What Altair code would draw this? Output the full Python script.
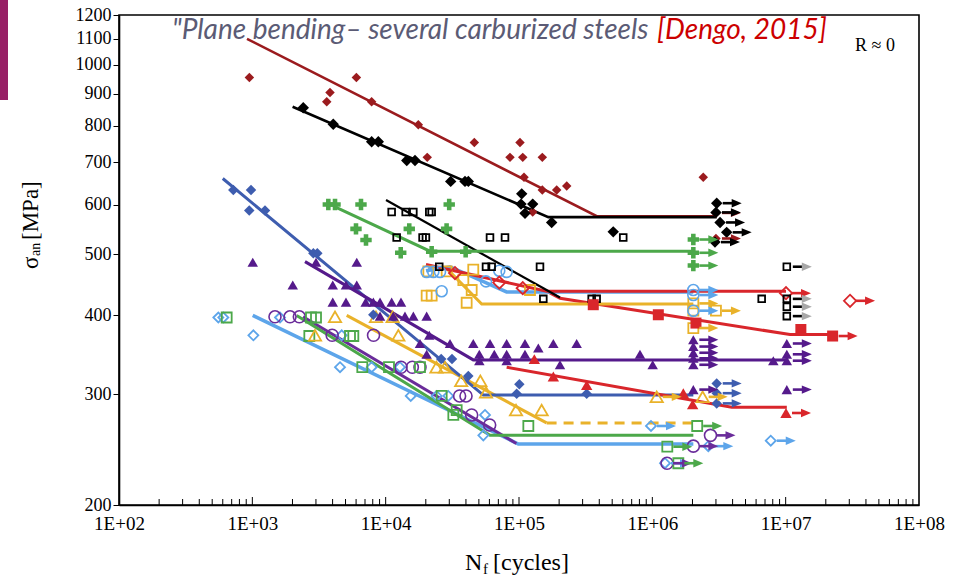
import altair as alt
import pandas as pd

# ---------------- data (N cycles, stress MPa) ----------------
# dark red filled diamonds
DR_N = [950, 6030, 3825, 3614, 7850, 17580, 46240, 101700, 20500, 85600, 106700, 149600, 109000, 149600, 191700, 228000, 126700, 2410000]
DR_S = [955, 955, 904, 874, 874, 803, 753, 753, 713, 713, 713, 713, 663, 633, 633, 642, 584, 663]
DR_RUN_N = [3000000, 3000000]
DR_RUN_S = [582, 530]
DR_FIT_N = [912, 383000, 3000000]
DR_FIT_S = [1100, 575, 575]

# black filled diamonds
BK_N = [2410, 4045, 7850, 8810, 14390, 16600, 30740, 39360, 41690, 104800, 103500, 126700, 110900, 175800, 509000]
BK_S = [855, 805, 755, 755, 705, 705, 653, 653, 653, 624, 601, 601, 581, 562, 543]
BK_RUN_N = [3040000, 3000000, 3220000, 3610000, 2950000]
BK_RUN_S = [603, 583, 562, 542, 523]
BK_FIT_N = [2004, 166000, 3040000]
BK_FIT_S = [858, 573, 573]

# green plus
GP_N = [3715, 4170, 6530, 29960, 5990, 15030, 28640, 7120, 12970, 22130, 39810]
GP_S = [600, 600, 600, 600, 549, 549, 549, 527, 503, 505, 505]
GP_RUN_N = [2030000, 2030000, 2030000]
GP_RUN_S = [528, 503, 480]
GP_FIT_N = [4170, 21500, 2030000]
GP_FIT_S = [595, 506, 506]

# black open squares
BS_N = [11090, 14130, 16130, 21240, 22130, 12090, 18920, 20040, 60600, 78520, 605000, 25230, 56560, 62370, 143700, 152200, 350800, 382400, 6610000]
BS_S = [584, 584, 584, 584, 584, 532, 532, 532, 532, 532, 532, 478, 478, 478, 478, 425, 425, 425, 425]
BS_RUN_N = [10200000, 10200000, 10200000, 10200000]
BS_RUN_S = [478, 425, 413, 399]
BS_FIT_N = [10060, 203000]
BS_FIT_S = [610, 427]

# red open diamonds
RD_N = [33110, 71120, 106700]
RD_S = [467, 451, 442]
RD_RUN_N = [10060000, 30400000]
RD_RUN_S = [434, 422]
RD_FIT_N = [20070, 161000, 10060000]
RD_FIT_S = [482, 437, 437]

# light blue open circles
LC_N = [20300, 22760, 25560, 26300, 56560, 71120, 80800]
LC_S = [469, 469, 469, 437, 453, 471, 469]
LC_RUN_N = [2030000, 2030000, 2030000]
LC_RUN_S = [439, 431, 407]
LC_FIT_N = [20070, 30370, 80700, 2030000]
LC_FIT_S = [471, 478, 436, 436]

# gold open squares
GS_N = [20900, 28680, 45400, 38240, 44170, 20300, 22130, 40500, 120900, 2030000]
GS_S = [470, 470, 473, 455, 439, 430, 430, 419, 439, 407]
GS_RUN_N = [2030000, 3000000, 2030000]
GS_RUN_S = [418, 407, 382]
GS_FIT_N = [20900, 28680, 52500, 2030000]
GS_FIT_S = [477, 475, 417, 417]

# red filled squares
RS_N = [360600, 1109000, 2125000, 13000000]
RS_S = [416, 401, 389, 380]
RS_RUN_N = [22500000]
RS_RUN_S = [371]
RS_FIT_N = [161000, 203000, 10780000, 22800000]
RS_FIT_S = [437, 426, 373, 373]

# purple filled triangles
PT_N = [1007, 3003, 6070, 2010, 4010, 5040, 6070, 4010, 5040, 7080, 8080, 9070, 11090, 13030,
        9070, 11410, 13960, 16130, 20300, 21240, 18090, 20300, 30370, 45400, 60600, 80800,
        110900, 139600, 180900, 270700, 50400, 65300, 80800, 110900, 50400, 80800, 203000,
        808000, 1006000, 8080000]
PT_S = [486, 486, 486, 447, 447, 447, 447, 420, 420, 420, 420, 420, 420, 420,
        399, 399, 399, 399, 399, 372, 361, 347, 361, 361, 361, 361,
        361, 355, 361, 361, 347, 347, 347, 347, 339, 339, 334,
        347, 334, 339]
PT_RUN_N = [2030000, 2030000, 2030000, 2030000, 2030000, 2030000, 10200000, 10200000, 10200000, 10200000]
PT_RUN_S = [366, 357, 349, 342, 334, 305, 361, 347, 339, 305]
PT_FIT_N = [2483, 45400, 10200000]
PT_FIT_S = [487, 340, 340]

# red filled triangles
RT_N = [130300, 180900, 321800, 1708000, 2006000]
RT_S = [341, 320, 310, 301, 289]
RT_RUN_N = [10060000]
RT_RUN_S = [280]
RT_FIT_N = [80800, 3940000, 10200000]
RT_FIT_S = [331, 286, 286]

# blue filled diamonds
BD_N = [720, 977, 948, 1245, 2868, 3073, 8080, 26090, 31450, 41690, 100600, 96100, 321800]
BD_S = [633, 633, 587, 587, 502, 502, 401, 341, 341, 320.5, 311, 300.5, 300.5]
BD_RUN_N = [3040000, 3040000, 3040000]
BD_RUN_S = [312, 301, 290]
BD_FIT_N = [600, 54000, 2030000]
BD_FIT_S = [660, 299, 299]

# gold open triangles
GT_N = [4170, 8460, 11280, 2951, 12450, 24040, 27860, 36860, 51300, 56560, 95000, 147900]
GT_S = [398, 398, 398, 372, 372, 331, 331, 315, 315, 302, 283, 283]
GT_RUN_N = [1079000, 2385000]
GT_RUN_S = [297, 297]
GT_FIT_N = [5100, 161000]
GT_FIT_S = [400, 270]
GT_DASH_N = [161000, 2030000]
GT_DASH_S = [270, 270]

# green open squares
GQ_N = [642, 2754, 3003, 2676, 5400, 5720, 6680, 10590, 18090, 26300, 34080, 32180, 117500]
GQ_S = [397, 397, 397, 371, 371, 371, 331, 331, 331, 298, 283, 278, 267]
GQ_RUN_N = [2170000, 1295000, 1567000]
GQ_RUN_S = [267, 247.5, 233]
GQ_FIT_N = [2150, 60600, 2030000]
GQ_FIT_S = [400, 258, 258]

# purple open circles
PC_N = [1479, 1917, 2252, 3970, 8110, 13030, 15850, 18090, 35850, 40050, 44170, 60260]
PC_S = [398, 398, 398, 372, 372, 331, 331, 331, 298, 298, 278, 268]
PC_RUN_N = [2730000, 2030000, 1289000]
PC_RUN_S = [258, 248, 233]
PC_FIT_N = [2400, 95500]
PC_FIT_S = [398, 250.5]

# light blue open diamonds
LD_N = [556, 606, 1018, 1613, 4546, 7850, 12810, 4680, 15420, 24100, 29500, 55600, 54000]
LD_S = [397, 397, 372, 397, 331, 331, 331, 372, 298, 298, 298, 278, 258]
LD_RUN_N = [977000, 7730000, 1245000, 2630000]
LD_RUN_S = [267, 253, 233, 248]
LD_FIT_N = [1007, 98900, 2030000]
LD_FIT_S = [400, 250, 250]

X_DECADES = [1e2, 1e3, 1e4, 1e5, 1e6, 1e7, 1e8]
Y_TICKS = [200, 300, 400, 500, 600, 700, 800, 900, 1000, 1100, 1200]

# ---------------- styles ----------------
STYLE = {
    'DR': dict(color='#9B1B1E', shape='diamond', filled=True, size=90, lw=2.6),
    'BK': dict(color='#000000', shape='diamond', filled=True, size=130, lw=2.6),
    'GP': dict(color='#4CA84A', shape='cross', filled=True, size=130, lw=3),
    'BS': dict(color='#000000', shape='square', filled=False, size=45, lw=2.2, sw=1.8, head='#A8A8A8'),
    'RD': dict(color='#D9262B', shape='diamond', filled=False, size=150, lw=3, sw=1.8),
    'LC': dict(color='#5DA5EA', shape='circle', filled=False, size=121, lw=3.5, sw=1.6),
    'GS': dict(color='#E9B22A', shape='square', filled=False, size=100, lw=3, sw=1.8),
    'RS': dict(color='#D9262B', shape='square', filled=True, size=121, lw=3),
    'PT': dict(color='#551A8B', shape='triangle-up', filled=True, size=110, lw=3),
    'RT': dict(color='#D9262B', shape='triangle-up', filled=True, size=130, lw=3),
    'BD': dict(color='#3E5DAF', shape='diamond', filled=True, size=110, lw=3),
    'GT': dict(color='#E9B22A', shape='triangle-up', filled=False, size=150, lw=3, sw=1.8),
    'GQ': dict(color='#4CA84A', shape='square', filled=False, size=100, lw=3, sw=1.8),
    'PC': dict(color='#6A2C9A', shape='circle', filled=False, size=144, lw=3, sw=1.6),
    'LD': dict(color='#5DA5EA', shape='diamond', filled=False, size=100, lw=3.5, sw=1.8),
}

G = globals()
LINE_ORDER = ['LD', 'PC', 'GQ', 'GT', 'BD', 'RT', 'PT', 'RS', 'GS', 'LC', 'RD', 'BS', 'GP', 'DR', 'BK']
POINT_ORDER = ['LD', 'PC', 'GQ', 'GT', 'GS', 'LC', 'RD', 'BS', 'BD', 'RT', 'PT', 'RS', 'GP', 'DR', 'BK']

x_enc = alt.X('N:Q', scale=alt.Scale(type='log', domain=[100, 1e8], nice=False),
              axis=alt.Axis(values=X_DECADES, labelExpr="'1E+0' + round(log(datum.value)/LN10)",
                            title=None, ticks=False, grid=False, labelFont='Liberation Serif',
                            labelFontSize=19, labelPadding=9, labelFlush=False, labelOverlap=False,
                            labelColor='black', domainColor='black', domainWidth=1.6))
y_enc = alt.Y('S:Q', scale=alt.Scale(type='log', domain=[200, 1200], nice=False),
              axis=alt.Axis(values=Y_TICKS, format='d', title=None, grid=False, tickSize=6,
                            tickColor='black', labelFont='Liberation Serif', labelFontSize=18,
                            labelPadding=2, labelOverlap=False, labelFlush=False,
                            labelColor='black', domainColor='black', domainWidth=1.6))

layers = []

# fit lines
for k in LINE_ORDER:
    st = STYLE[k]
    df = pd.DataFrame({'N': G[k + '_FIT_N'], 'S': G[k + '_FIT_S']})
    layers.append(alt.Chart(df).mark_line(color=st['color'], strokeWidth=st['lw'], clip=True)
                  .encode(x=x_enc, y=y_enc))
    if k == 'GT':
        dfd = pd.DataFrame({'N': GT_DASH_N, 'S': GT_DASH_S})
        layers.append(alt.Chart(dfd).mark_line(color=st['color'], strokeWidth=st['lw'],
                                               strokeDash=[10, 7]).encode(x=x_enc, y=y_enc))

ARROW_SHAFT = "M0.6,-0.13L1.6,-0.13L1.6,0.13L0.6,0.13Z"
ARROW_HEAD = "M1.5,-0.42L2.5,0L1.5,0.42Z"

# markers (data points + run-outs)
for k in POINT_ORDER:
    st = STYLE[k]
    df = pd.DataFrame({'N': list(G[k + '_N']) + list(G[k + '_RUN_N']),
                       'S': list(G[k + '_S']) + list(G[k + '_RUN_S'])})
    if st['filled']:
        m = alt.Chart(df).mark_point(shape=st['shape'], filled=True, size=st['size'],
                                     color=st['color'], opacity=1)
    else:
        m = alt.Chart(df).mark_point(shape=st['shape'], filled=False, size=st['size'],
                                     color=st['color'], strokeWidth=st['sw'], opacity=1)
    layers.append(m.encode(x=x_enc, y=y_enc))

# run-out arrows
for k in POINT_ORDER:
    st = STYLE[k]
    dfr = pd.DataFrame({'N': G[k + '_RUN_N'], 'S': G[k + '_RUN_S']})
    layers.append(alt.Chart(dfr).mark_point(shape=ARROW_SHAFT, filled=True, size=400,
                                            color=st['color'], opacity=1, strokeWidth=0)
                  .encode(x=x_enc, y=y_enc))
    layers.append(alt.Chart(dfr).mark_point(shape=ARROW_HEAD, filled=True, size=400,
                                            color=st.get('head', st['color']), opacity=1, strokeWidth=0)
                  .encode(x=x_enc, y=y_enc))

# inward minor / major ticks on the x axis
minor = [m * 10 ** e for e in range(2, 8) for m in range(2, 10)]
layers.append(alt.Chart(pd.DataFrame({'N': minor})).mark_rule(color='black', strokeWidth=1)
              .encode(x=x_enc, y=alt.value(490), y2=alt.value(484)))
layers.append(alt.Chart(pd.DataFrame({'N': X_DECADES[1:-1]})).mark_rule(color='black', strokeWidth=1)
              .encode(x=x_enc, y=alt.value(490), y2=alt.value(482)))

# texts
def txt(t, x, y, **kw):
    return alt.Chart(pd.DataFrame({'t': [t]})).mark_text(**kw).encode(
        text='t:N', x=alt.value(x), y=alt.value(y))

layers.append(txt('"Plane bending\u2013 several carburized steels', 53, 24, align='left',
                  baseline='alphabetic', font='Lato', fontStyle='italic', fontSize=28, color='#5B5B75'))
layers.append(txt('[Dengo, 2015]', 538, 24, align='left', baseline='alphabetic', font='Lato',
                  fontStyle='italic', fontSize=28, color='#CC0000'))
layers.append(txt('R \u2248 0', 756, 31, align='center', baseline='middle',
                  font='Liberation Serif', fontSize=18, color='black'))
# y axis title: sigma_an [MPa]
layers.append(txt('\u03c3', -88, 254, align='left', baseline='middle', angle=270,
                  font='Liberation Serif', fontSize=23, color='black'))
layers.append(txt('an', -83, 241, align='left', baseline='middle', angle=270,
                  font='Liberation Serif', fontSize=14, color='black'))
layers.append(txt('[MPa]', -88, 225, align='left', baseline='middle', angle=270,
                  font='Liberation Serif', fontSize=23, color='black'))
# x axis title: N_f [cycles]
layers.append(txt('N', 346, 548, align='left', baseline='middle',
                  font='Liberation Serif', fontSize=24, color='black'))
layers.append(txt('f', 364, 554, align='left', baseline='middle',
                  font='Liberation Serif', fontSize=15, color='black'))
layers.append(txt('[cycles]', 374, 548, align='left', baseline='middle',
                  font='Liberation Serif', fontSize=24, color='black'))

# decorative bar at the top-left corner
layers.append(alt.Chart(pd.DataFrame({'a': [0]})).mark_rect(color='#982066').encode(
    x=alt.value(-119), x2=alt.value(-111), y=alt.value(-15), y2=alt.value(85)))

chart = alt.layer(*layers).properties(
    width=800, height=490, autosize='none',
    padding={'left': 119, 'top': 15, 'right': 34, 'bottom': 76},
    background='white'
).configure_view(stroke='black', strokeWidth=1.6)

chart.save("out.html", embed_options={"renderer": "svg", "actions": False})
